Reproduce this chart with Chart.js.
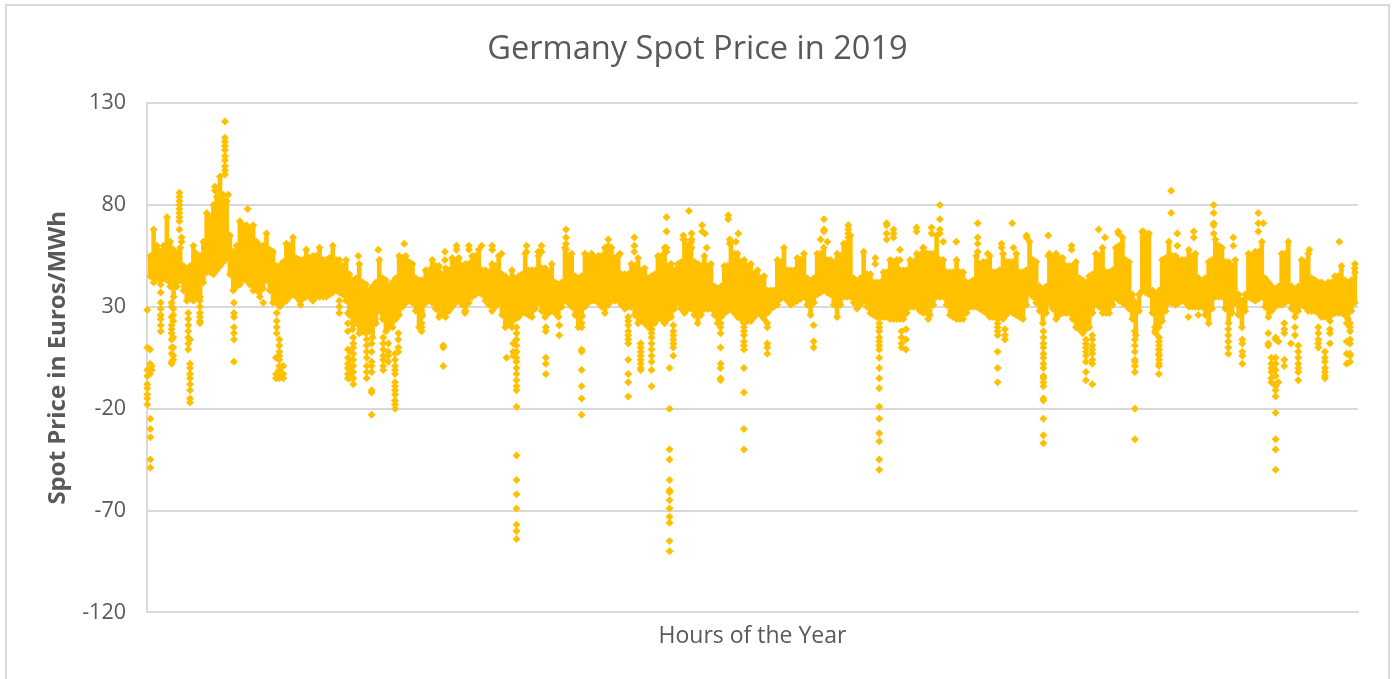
<!DOCTYPE html>
<html><head><meta charset="utf-8">
<script src="https://cdn.jsdelivr.net/npm/chart.js@4"></script>
<style>
html,body{margin:0;padding:0;background:#fff;overflow:hidden}
#wrap{position:absolute;left:0;top:0;width:1392px;height:679px}
#frame{position:absolute;left:5px;top:4px;width:1385px;height:700px;border:2px solid #D9D9D9;box-sizing:border-box}
canvas{position:absolute;left:0;top:0}
</style></head><body>
<div id="wrap"><div id="frame"></div><canvas id="c" width="1392" height="679"></canvas></div>
<script>
const chartTitle = "Germany Spot Price in 2019";
const yTitle = "Spot Price in Euros/MWh";
const xTitle = "Hours of the Year";
const yTickValues = [130, 80, 30, -20, -70, -120];

// Dense part of the cloud: hour, upper and lower edge of the solid band
const coreHours = [0,48,96,144,192,240,288,336,384,432,480,528,576,624,672,720,768,816,864,912,960,1008,1056,1104,1152,1200,1248,1296,1344,1392,1440,1488,1536,1584,1632,1680,1728,1776,1824,1872,1920,1968,2016,2064,2112,2160,2208,2256,2304,2352,2400,2448,2496,2544,2592,2640,2688,2736,2784,2832,2880,2928,2976,3024,3072,3120,3168,3216,3264,3312,3360,3408,3456,3504,3552,3600,3648,3696,3744,3792,3840,3888,3936,3984,4032,4080,4128,4176,4224,4272,4320,4368,4416,4464,4512,4560,4608,4656,4704,4752,4800,4848,4896,4944,4992,5040,5088,5136,5184,5232,5280,5328,5376,5424,5472,5520,5568,5616,5664,5712,5760,5808,5856,5904,5952,6000,6048,6096,6144,6192,6240,6288,6336,6384,6432,6480,6528,6576,6624,6672,6720,6768,6816,6864,6912,6960,7008,7056,7104,7152,7200,7248,7296,7344,7392,7440,7488,7536,7584,7632,7680,7728,7776,7824,7872,7920,7968,8016,8064,8112,8160,8208,8256,8304,8352,8400,8448,8496,8544,8592,8640,8688,8736];
const coreHigh = [null,68,57,74,58,59,48,60,55,76,80,94,82,57,72,70,70,60,66,57,50,61,64,53,58,55,59,53,60,53,53,43,51,41,40,53,43,42,55,55,51,43,48,53,50,49,54,54,51,55,58,48,51,55,45,48,45,56,48,55,49,51,41,59,56,44,56,56,55,59,59,55,46,51,54,49,45,55,59,51,51,63,62,51,55,51,39,50,62,56,53,51,48,45,38,53,59,48,54,56,42,56,59,53,56,61,65,42,57,46,42,47,53,53,48,53,56,59,56,65,53,47,53,47,42,55,52,55,47,56,52,56,47,62,52,38,56,56,54,50,52,43,45,56,59,47,59,64,52,32,67,66,36,53,62,55,53,58,56,42,52,63,59,52,53,33,56,57,62,42,38,56,62,38,53,56,43,42,42,45,50,42,49];
const coreLow = [null,42,43,43,35,43,33,33,35,47,46,50,54,38,41,43,38,35,43,32,30,33,36,33,35,33,35,35,37,37,33,19,17,17,15,28,18,20,26,32,32,20,32,32,25,25,30,33,28,35,37,33,28,32,20,20,25,27,25,32,25,28,25,33,30,20,30,33,32,27,33,33,29,30,22,22,19,24,22,25,32,27,29,22,29,29,22,27,29,25,23,23,27,24,29,31,35,31,33,35,26,36,38,36,25,35,35,29,33,27,25,25,24,24,24,30,30,27,26,35,35,26,24,24,30,30,28,25,25,24,28,26,24,37,32,22,32,24,27,27,20,17,20,32,27,27,35,32,29,16,38,36,17,23,32,31,33,30,30,30,22,35,35,22,32,20,35,33,35,25,30,31,33,25,31,28,28,25,25,27,27,24,32];

// Same band, read half way between the columns above
const midHours = [24,72,120,168,216,264,312,360,408,456,504,552,600,648,696,744,792,840,888,936,984,1032,1080,1128,1176,1224,1272,1320,1368,1416,1464,1512,1560,1608,1656,1704,1752,1800,1848,1896,1944,1992,2040,2088,2136,2184,2232,2280,2328,2376,2424,2472,2520,2568,2616,2664,2712,2760,2808,2856,2904,2952,3000,3048,3096,3144,3192,3240,3288,3336,3384,3432,3480,3528,3576,3624,3672,3720,3768,3816,3864,3912,3960,4008,4056,4104,4152,4200,4248,4296,4344,4392,4440,4488,4536,4584,4632,4680,4728,4776,4824,4872,4920,4968,5016,5064,5112,5160,5208,5256,5304,5352,5400,5448,5496,5544,5592,5640,5688,5736,5784,5832,5880,5928,5976,6024,6072,6120,6168,6216,6264,6312,6360,6408,6456,6504,6552,6600,6648,6696,6744,6792,6840,6888,6936,6984,7032,7080,7128,7176,7224,7272,7320,7368,7416,7464,7512,7560,7608,7656,7704,7752,7800,7848,7896,7944,7992,8040,8088,8136,8184,8232,8280,8328,8376,8424,8472,8520,8568,8616,8664,8712];
const midHigh = [55,60,60,62,56,50,50,56,62,74,84,85,65,60,70,68,62,60,58,50,52,60,54,53,54,55,53,54,53,50,46,44,42,38,42,44,40,44,54,52,44,43,48,50,46,48,52,50,51,55,48,47,50,46,43,44,46,48,48,49,47,42,42,55,45,45,54,54,55,57,54,46,46,50,48,44,46,55,50,48,52,60,52,50,50,40,40,50,56,52,50,46,44,38,38,52,48,48,53,44,44,56,53,52,55,60,44,44,46,42,42,47,52,48,48,52,55,56,56,53,47,47,47,42,43,51,52,47,48,52,52,47,48,53,40,40,54,54,50,50,44,42,46,55,47,48,60,53,36,36,65,38,38,54,55,53,53,55,44,44,53,60,52,50,36,36,55,57,44,40,40,56,40,40,52,44,42,41,42,45,43,43];
const midLow = [45,44,44,40,40,38,34,35,42,47,48,52,46,40,43,41,38,39,38,32,32,35,35,34,35,35,35,36,38,36,26,22,18,18,22,24,20,24,30,33,28,26,33,29,26,28,32,31,32,36,36,31,30,26,22,24,27,26,29,28,27,27,30,32,26,26,32,33,30,31,33,31,30,26,23,21,22,24,24,29,29,29,26,26,29,26,25,28,27,24,23,25,26,27,30,34,33,32,34,31,32,37,37,31,31,35,32,31,30,26,25,25,24,24,27,30,28,27,31,35,31,25,24,27,30,29,27,25,25,26,27,25,31,35,28,27,29,26,27,24,19,19,27,30,27,31,33,31,24,28,37,27,20,28,32,32,32,30,30,26,29,35,29,27,26,28,34,34,30,28,31,32,29,28,30,28,27,25,26,27,26,28];

// Individual points around the band: hour followed by the prices seen at that hour
const outliersQ1 = [
[2,28.5,10,-1,-4,-8,-10,-13,-15,-18],[22,9,2,0,-3],[24,-25,-30,-34,-45,-49],[34,1,-1],
[99,41,37,32,29,26,24,21,18],[178,32,30,25,21,19,17,14,10,7,3,2],[190,29,26,23,15,10,6,4],
[234,86,84,82,80,78,76,74,72,68],[250,64,62],[299,27,24,21,18,15,12,9],[311,14,2,0,-3,-5,-8,-11,-15,-17],
[383,33,30,27,25,23,22],[492,89,87],[564,121,113,111,109,107,104,102,99,97,95],[588,85],[728,78],
[629,32,27,25,20,17,14,3],[938,27,23,20,17],[957,14,11,8,6,4,1,-1,-4,-5],[933,5,-3,-5],[986,1,-3,-5],
[841,32],[1111,31],[1391,33,30,27],[1453,27,22,18,9,5,2,0,-3,-5],
[1492,15,12,10,7,4,1,-2,-5,-8],[1468,8,4,1,-1,-3,-5],[1528,55],[1589,14,11,8,5,1,-2,-5],
[1625,12,8,3,1,-2,-11,-12,-23],[1673,58],[1709,15,12,9,6,4,1,-1],[1745,12,8,6,3],
[1794,7,4,1,-1,-3,-7,-9,-11,-13,-16,-18,-20],[1818,17,14,10,8],[1861,61],[1986,25,22,20,18]
];
const outliersQ2 = [
[2143,11,10,1],[2155,57,53],[2239,60,58],[2329,60,58],[2420,60],[2497,60,58],[2565,56],[2601,5],[2300,28,27],
[2673,20,17,14,11,8,5,3,0,-3,-6,-9,-11,-19,-43,-55,-62,-69,-77,-80,-84],[2649,12,8,6],[2745,60,57],
[2854,60,57],[2830,57],[2885,20,18,5,2,-3],[2982,21,16],[3031,68,64,61,58],
[3144,25,22,20,9,8,-1,-9,-15,-23],[3337,63,60,58],[3421,56],[3481,25,23,21,18,16,14,12,4,-3,-7,-14],
[3525,64,60,57],[3571,12,10,8,6,4,2,0,-1],[3650,19,17,15,12,9,6,3,-1,-9],[3626,20],[3758,74,67,59,57],
[3780,0,-20,-40,-45,-55,-60,-61,-65,-69,-73,-76,-85,-90],[3807,21,18,16,14,12,10,6],[3920,77],
[3879,65,63],[3939,66,63,59],[4016,70,67],[4036,66],[4048,59],[4204,75,73],[4216,63,61]
];
const outliersQ3 = [
[4277,66],[4260,62],[4149,22,20,17,10,2,0,-5,-6],[4318,22,20,18,16,13,11,9,0,-12,-30,-40],
[4487,22,20,12,10,7],[4822,21,13,10],[4897,73,68,67],[4873,63],[4921,62],[5073,70,68,66,64,62],
[5350,71,70,66,63],[5400,68,66,64],[5446,58,53],[5268,54,51],
[5297,22,20,18,15,13,11,9,5,0,-5,-10,-19,-25,-32,-36,-45,-50],[5458,18,15,12,10],[5490,19,14,9],
[5567,69,67],[5615,59,57],[5675,69,66],[5735,80,73,68,66],[5760,62],[5854,62],[5651,24],
[6009,71,64,61,57],[6081,56],[6153,24,22,20,18,16,8,0,-7],[6206,19,16,14],[6259,71],[6182,61,59],[6267,59]
];
const outliersQ4 = [
[6363,65,64],[6520,65,55],[6484,18,15,12,10,7,5,2,0,-4,-5,-7,-9,-15,-16,-25,-33,-37],[6688,60,58],
[6792,14,12,10,8,6,3,-2,-6],[6838,16,14,11,9,7,4,2,-8],[6884,68],[6930,64],[7026,67,66],[7051,60],
[7146,18,14,11,8,4,3,1,-2,-20,-35],[7207,67,66,64],[7320,13,9,7,4,1,-3],[7291,20,18],[7408,87,76],
[7453,66,60],[7321,15,11,9,6,2],[7572,67,64],[7533,25],[7605,30,26],[7716,80,76,71,70,66],
[7822,19,16,13,10,7],[7858,64,60],[7923,14,12,8,6,2],[8039,76,71,67],[8075,71],[8111,17,12,11],
[8133,5,2,0,-2,-5,-7],[8164,15,14,5,2,-1,-4,-8,-9,-11,-14,-22,-35,-40,-50],[8184,13,-7],
[8227,22,19,17,4,1],[8275,12],[8328,11,8,5,2,0,-2,-6],[8304,20,16],[8473,20,17,14,12,10],
[8521,8,5,3,0,-2,-4,-5],[8557,23,19,17,12],[8702,22,20,18,14,12,7,6,3],[8678,22,13,7,2],
[8738,51,47],[8625,62],[8408,58]
];

const GOLD = "#FFC000", GRID = "#D9D9D9", TEXT = "#595959";
const FONT = "'Open Sans', sans-serif";
const edgeInset = 1;

const bandBars = [], scatterPoints = [];
function addBand(hours, high, low) {
  hours.forEach((h, i) => {
    if (high[i] === null) return;
    bandBars.push({x: h, y: [low[i] + edgeInset, high[i] - edgeInset]});
    scatterPoints.push({x: h, y: high[i]}, {x: h, y: low[i]});
  });
}
addBand(coreHours, coreHigh, coreLow);
addBand(midHours, midHigh, midLow);
[outliersQ1, outliersQ2, outliersQ3, outliersQ4].forEach(list => list.forEach(row => {
  row.slice(1).forEach(p => scatterPoints.push({x: row[0], y: p}));
}));

new Chart(document.getElementById("c"), {
  type: "scatter",
  data: {datasets: [
    {type: "bar", label: "Dense band", data: bandBars, backgroundColor: GOLD, borderWidth: 0, barThickness: 4, order: 2},
    {type: "scatter", label: "Spot price", data: scatterPoints, pointStyle: "rectRot", pointRadius: 4,
     backgroundColor: GOLD, borderColor: GOLD, borderWidth: 0, clip: false, order: 1}
  ]},
  options: {
    responsive: false, animation: false,
    layout: {padding: {left: 37, right: 34, top: 30, bottom: 29}},
    plugins: {
      legend: {display: false}, tooltip: {enabled: false},
      title: {display: true, text: chartTitle, color: TEXT, font: {family: FONT, size: 32.6, weight: "normal"}, padding: {top: 0, bottom: 34}}
    },
    scales: {
      x: {type: "linear", min: 0, max: 8760, offset: false, grid: {display: false, drawTicks: false},
          border: {color: GRID, width: 2}, ticks: {display: false},
          title: {display: true, text: xTitle, color: TEXT, font: {family: FONT, size: 23}, padding: {top: 10, bottom: 0}}},
      y: {type: "linear", min: -120, max: 130,
          afterBuildTicks: s => { s.ticks = yTickValues.map(v => ({value: v})); },
          grid: {color: GRID, lineWidth: 2, drawTicks: false}, border: {color: GRID, width: 2},
          ticks: {color: TEXT, font: {family: FONT, size: 21.5}, padding: 21},
          title: {display: true, text: yTitle, color: TEXT, font: {family: FONT, size: 24, weight: "bold"}, padding: {top: 7, bottom: 0}},
          afterFit: s => { s.width = 110; }}
    }
  }
});
</script>
</body></html>
